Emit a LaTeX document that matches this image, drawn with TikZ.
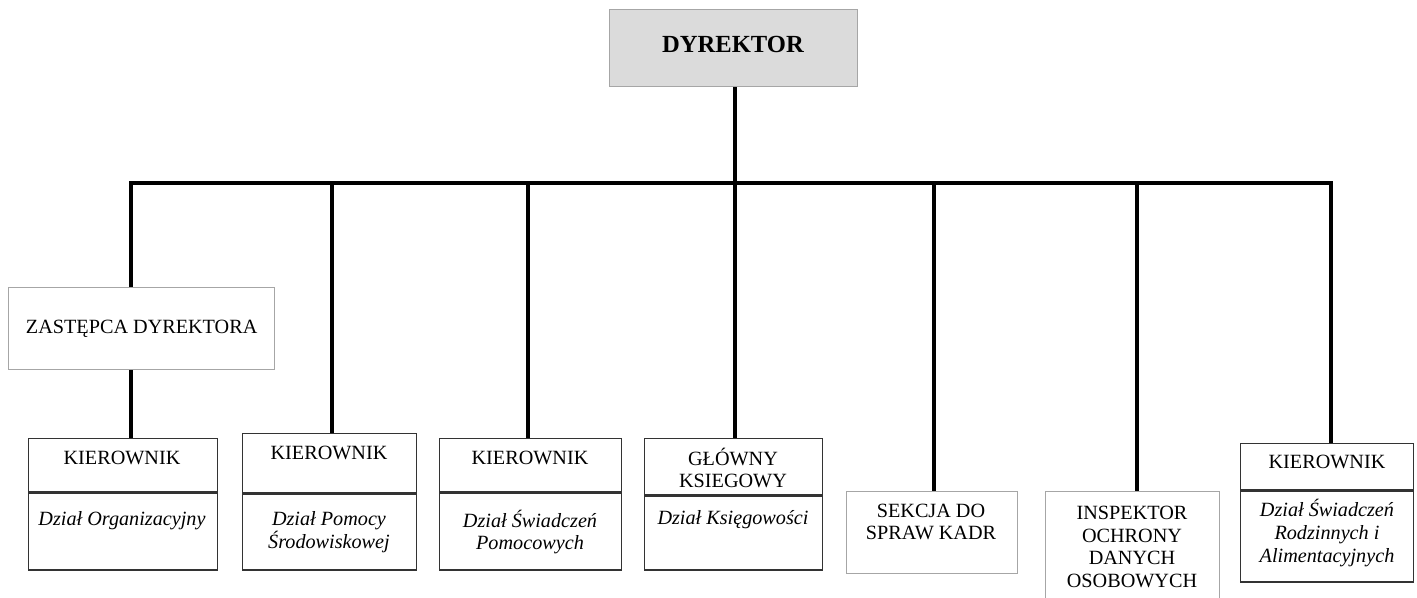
\documentclass[tikz,border=0pt]{standalone}
\usepackage{fontspec}
\setmainfont{Liberation Serif}
\usepackage{tikz}
\tikzstyle{chief} = [draw=gray!70, fill=black!14, rectangle, anchor=north west,
inner sep=0pt, line width=0.8pt]
\tikzstyle{plain} = [draw=gray!70, rectangle, anchor=north west,
inner sep=0pt, line width=0.8pt]
\tikzstyle{cell} = [draw=black!80, rectangle, anchor=north west,
inner sep=0pt, line width=0.8pt]
\tikzstyle{lbl} = [align=center, inner sep=0pt]
\tikzstyle{unit} = [align=center, inner sep=0pt, font=\fontsize{11.5}{13}\selectfont\itshape]
\tikzstyle{link} = [line width=2.2pt]

\begin{document}
\begin{tikzpicture}[x=0.02cm, y=-0.02cm, font=\fontsize{11.5}{13}\selectfont]
\useasboundingbox (0,0) rectangle (1417,598);

\node [chief, minimum width=4.96cm, minimum height=1.54cm] (dyr) at (609,9) {};
\node [lbl, font=\fontsize{14}{16}\selectfont\bfseries] (dyrt) at (733,44) {DYREKTOR};

\node [plain, minimum width=5.32cm, minimum height=1.64cm] (zast) at (8,287) {};
\node [lbl] (zastt) at (zast.center) {ZASTĘPCA DYREKTORA};

% kierownicy dzialow
\node [cell, minimum width=3.78cm, minimum height=1.06cm] (k1h) at (28,438) {};
\node [cell, minimum width=3.78cm, minimum height=1.54cm] (k1b) at (k1h.south west) {};
\node [lbl] (k1ht) at (122,458) {KIEROWNIK};
\node [unit] (k1bt) at (122,521) {Dział Organizacyjny};

\node [cell, minimum width=3.48cm, minimum height=1.18cm] (k2h) at (242,433) {};
\node [cell, minimum width=3.48cm, minimum height=1.52cm] (k2b) at (k2h.south west) {};
\node [lbl] (k2ht) at (329,453) {KIEROWNIK};
\node [unit] (k2bt) at (329,532) {Dział Pomocy\\Środowiskowej};

\node [cell, minimum width=3.64cm, minimum height=1.06cm] (k3h) at (439,438) {};
\node [cell, minimum width=3.64cm, minimum height=1.54cm] (k3b) at (k3h.south west) {};
\node [lbl] (k3ht) at (530,458) {KIEROWNIK};
\node [unit] (k3bt) at (530,532) {Dział Świadczeń\\Pomocowych};

\node [cell, minimum width=3.56cm, minimum height=1.12cm] (k4h) at (644,438) {};
\node [cell, minimum width=3.56cm, minimum height=1.48cm] (k4b) at (k4h.south west) {};
\node [lbl] (k4ht) at (733,468) {GŁÓWNY\\KSIEGOWY};
\node [unit] (k4bt) at (733,520) {Dział Księgowości};

\node [plain, minimum width=3.42cm, minimum height=1.64cm] (k5) at (846,491) {};
\node [lbl] (k5t) at (931,522) {SEKCJA DO\\SPRAW KADR};

\node [plain, minimum width=3.48cm, minimum height=2.6cm] (k6) at (1045,491) {};
\node [lbl] (k6t) at (1132,547) {INSPEKTOR\\OCHRONY\\DANYCH\\OSOBOWYCH};

\node [cell, minimum width=3.46cm, minimum height=0.92cm] (k7h) at (1240,443) {};
\node [cell, minimum width=3.46cm, minimum height=1.82cm] (k7b) at (k7h.south west) {};
\node [lbl] (k7ht) at (1327,462) {KIEROWNIK};
\node [unit] (k7bt) at (1327,533) {Dział Świadczeń\\Rodzinnych i\\Alimentacyjnych};

% szyna
\coordinate (d1) at (131,183);
\coordinate (d2) at (332,183);
\coordinate (d3) at (528,183);
\coordinate (d4) at (735,183);
\coordinate (d5) at (934,183);
\coordinate (d6) at (1137,183);
\coordinate (d7) at (1331,183);

\draw [link] (zast.north -| d1) -- (d1) -- (d7) -- (k7h.north -| d7);
\draw [link] (dyr.south -| d4) -- (k4h.north -| d4);
\draw [link] (d2) -- (k2h.north -| d2);
\draw [link] (d3) -- (k3h.north -| d3);
\draw [link] (d5) -- (k5.north -| d5);
\draw [link] (d6) -- (k6.north -| d6);
\draw [link] (zast.south -| d1) -- (k1h.north -| d1);
\end{tikzpicture}
\end{document}
